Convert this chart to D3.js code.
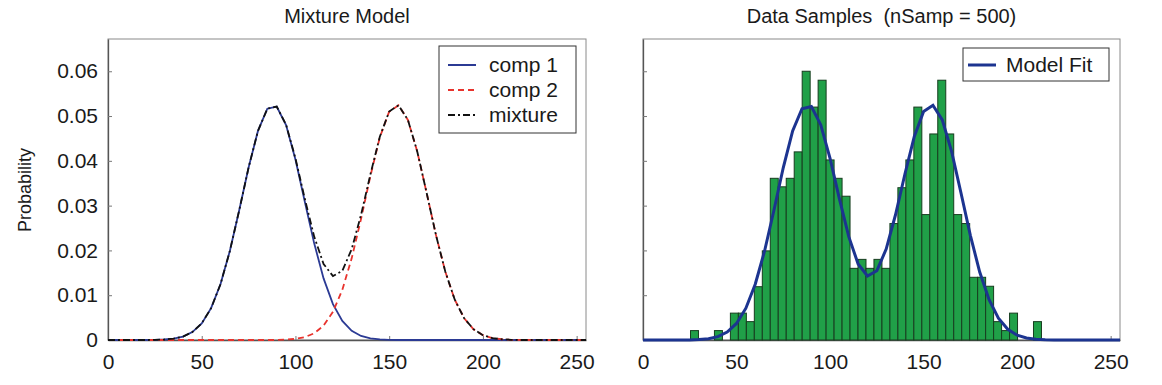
<!DOCTYPE html>
<html>
<head>
<meta charset="utf-8">
<script src="https://cdn.jsdelivr.net/npm/d3@7"></script>
<style>
  body { margin: 0; background: #fff; }
  text { font-family: "Liberation Sans", Arial, Helvetica, sans-serif; fill: #1a1a1a; }
</style>
</head>
<body>
<svg width="1162" height="385"></svg>
<script>
// model curves, sampled every 5 grey levels
var xs = [0,5,10,15,20,25,30,35,40,45,50,55,60,65,70,75,80,85,90,95,100,105,110,115,120,125,
          130,135,140,145,150,155,160,165,170,175,180,185,190,195,200,205,210,215,220,225,230,235,240,245,250,255];
var comp1 = [0,0,0,0,0,0.00002,0.00011,0.0003,0.00076,0.00176,0.0037,0.0071,0.01244,0.01987,0.02896,0.0385,
             0.04668,0.05164,0.05212,0.04798,0.0403,0.03088,0.02158,0.01376,0.008,0.00425,0.00206,0.00091,
             0.00037,0.00013,0.00004,0,0,0,0,0,0,0,0,0,0,0,0,0,0,0,0,0,0,0,0,0];
var comp2 = [0,0,0,0,0,0,0,0,0,0,0,0,0,0,0,0,0,0,0,0.00009,0.00025,0.00064,0.0015,0.00321,0.00628,0.0112,
             0.01823,0.02705,0.03663,0.04524,0.05098,0.0524,0.04914,0.04204,0.03281,0.02336,0.01517,0.00899,
             0.00486,0.0024,0.00108,0.00044,0.00017,0.00005,0,0,0,0,0,0,0,0];
var mixture = [0,0,0,0,0,0.00002,0.00011,0.0003,0.00076,0.00176,0.0037,0.0071,0.01244,0.01987,0.02896,0.0385,
               0.04668,0.05164,0.05212,0.04807,0.04055,0.03152,0.02308,0.01697,0.01428,0.01545,0.02029,0.02796,
               0.037,0.04537,0.05102,0.0524,0.04914,0.04204,0.03281,0.02336,0.01517,0.00899,0.00486,0.0024,
               0.00108,0.00044,0.00017,0.00005,0,0,0,0,0,0,0,0];

// histogram of the 500 samples (bin edges and normalised heights)
var binEdges = [25.4,29.66,33.93,38.19,42.46,46.72,50.98,55.25,59.51,63.78,68.04,72.3,76.57,80.83,85.1,89.36,
                93.62,97.89,102.15,106.42,110.68,114.94,119.21,123.47,127.74,132.0,136.26,140.53,144.79,149.06,
                153.32,157.58,161.85,166.11,170.38,174.64,178.9,183.17,187.43,191.7,195.96,200.22,204.49,208.75,213.02];
var binHeights = [0.0021,0,0,0.0021,0,0.006,0.006,0.0041,0.0119,0.0199,0.0361,0.0342,0.0361,0.042,0.060,0.052,
                  0.058,0.0402,0.0361,0.0321,0.016,0.018,0.016,0.018,0.016,0.026,0.034,0.0402,0.052,0.028,
                  0.046,0.058,0.046,0.028,0.026,0.014,0.014,0.012,0.0041,0.0021,0.006,0,0,0.0041];

var xTicks = [0,50,100,150,200,250];
var yTicks = [0,0.01,0.02,0.03,0.04,0.05,0.06];

var svg = d3.select("svg");
var plotTop = 39, plotBottom = 340;

function panel(left, right, title, showLabels) {
    var x = d3.scaleLinear().domain([0, 255]).range([left, right]);
    var y = d3.scaleLinear().domain([0, 0.0672]).range([plotBottom, plotTop]);
    var g = svg.append("g");

    g.append("text")
        .attr("x", (left + right) / 2)
        .attr("y", 23)
        .attr("text-anchor", "middle")
        .attr("font-size", "20px")
        .style("white-space", "pre")
        .text(title);

    g.append("rect")
        .attr("x", left).attr("y", plotTop)
        .attr("width", right - left).attr("height", plotBottom - plotTop)
        .attr("fill", "#fff")
        .attr("stroke", "#8a8a8a");

    var xa = g.append("g")
        .attr("transform", "translate(0," + plotBottom + ")")
        .call(d3.axisBottom(x).tickValues(xTicks).tickSizeInner(-4).tickSizeOuter(0).tickPadding(10));
    var ya = g.append("g")
        .attr("transform", "translate(" + left + ",0)")
        .call(d3.axisLeft(y).tickValues(yTicks).tickSizeInner(-4).tickSizeOuter(0).tickPadding(10)
            .tickFormat(showLabels ? d3.format("~g") : ""));
    [xa, ya].forEach(function(a) {
        a.select(".domain").attr("stroke", "#555").attr("stroke-width", 1.3);
        a.selectAll(".tick line").attr("stroke", "#777");
        a.selectAll(".tick text").attr("font-size", "21px").attr("fill", "#1a1a1a")
            .attr("font-family", "Liberation Sans, Arial, sans-serif");
    });
    xa.selectAll(".tick text").attr("dy", "0.9em");

    return {x: x, y: y, g: g};
}

function curve(p, vals) {
    return d3.line()
        .x(function(d, i) { return p.x(xs[i]); })
        .y(function(d) { return p.y(d); })(vals);
}

// Left: mixture model
var L = panel(108, 586, "Mixture Model", true);

svg.append("text")
    .attr("transform", "translate(31,190) rotate(-90)")
    .attr("text-anchor", "middle")
    .attr("font-size", "18px")
    .text("Probability");

L.g.append("path").attr("d", curve(L, comp1))
    .attr("fill", "none").attr("stroke", "#2b3a94").attr("stroke-width", 1.8);
L.g.append("path").attr("d", curve(L, comp2))
    .attr("fill", "none").attr("stroke", "#e8332d").attr("stroke-width", 1.8)
    .attr("stroke-dasharray", "6,4");
L.g.append("path").attr("d", curve(L, mixture))
    .attr("fill", "none").attr("stroke", "#111").attr("stroke-width", 1.8)
    .attr("stroke-dasharray", "7,3,2,3");

var legL = L.g.append("g");
legL.append("rect").attr("x", 439).attr("y", 46).attr("width", 137).attr("height", 87)
    .attr("fill", "#fff").attr("stroke", "#333");
var legItems = [
    {name: "comp 1", color: "#2b3a94", dash: null},
    {name: "comp 2", color: "#e8332d", dash: "6,4"},
    {name: "mixture", color: "#111", dash: "7,3,2,3"}
];
legItems.forEach(function(d, i) {
    var yy = 65 + i * 25;
    legL.append("line").attr("x1", 448).attr("x2", 476).attr("y1", yy).attr("y2", yy)
        .attr("stroke", d.color).attr("stroke-width", 2)
        .attr("stroke-dasharray", d.dash);
    legL.append("text").attr("x", 489).attr("y", yy + 7)
        .attr("font-size", "21px").text(d.name);
});

// Right: data samples
var R = panel(643, 1120, "Data Samples  (nSamp = 500)", false);

var bins = binHeights.map(function(h, i) { return {lo: binEdges[i], hi: binEdges[i + 1], h: h}; })
    .filter(function(d) { return d.h > 0; });

R.g.selectAll(".bar")
    .data(bins)
    .enter().append("rect")
    .attr("class", "bar")
    .attr("x", function(d) { return R.x(d.lo); })
    .attr("width", function(d) { return R.x(d.hi) - R.x(d.lo); })
    .attr("y", function(d) { return R.y(d.h); })
    .attr("height", function(d) { return plotBottom - R.y(d.h); })
    .attr("fill", "#20a048")
    .attr("stroke", "#173d1f")
    .attr("stroke-width", 1);

R.g.append("path").attr("d", curve(R, mixture))
    .attr("fill", "none").attr("stroke", "#1c3490").attr("stroke-width", 3);

var legR = R.g.append("g");
legR.append("rect").attr("x", 963).attr("y", 48).attr("width", 146).attr("height", 33)
    .attr("fill", "#fff").attr("stroke", "#333");
legR.append("line").attr("x1", 968).attr("x2", 996).attr("y1", 65).attr("y2", 65)
    .attr("stroke", "#1c3490").attr("stroke-width", 3);
legR.append("text").attr("x", 1006).attr("y", 72).attr("font-size", "21px").text("Model Fit");
</script>
</body>
</html>
